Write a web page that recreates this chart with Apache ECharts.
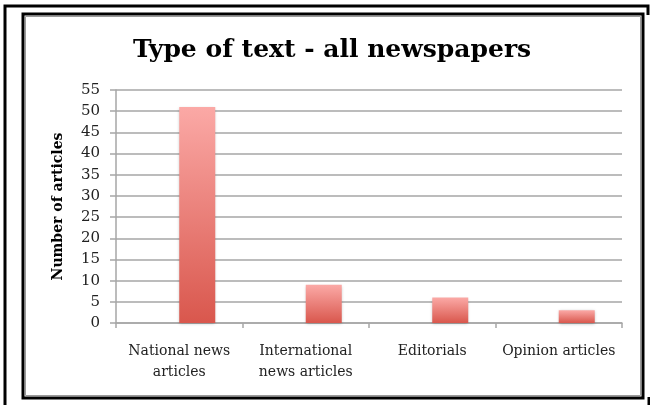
<!DOCTYPE html>
<html>
<head>
<meta charset="utf-8">
<script src="https://cdn.jsdelivr.net/npm/echarts@6/dist/echarts.min.js"></script>
<style>
html,body{margin:0;padding:0;background:#fff;}
#chart{width:650px;height:405px;}
</style>
</head>
<body>
<div id="chart"></div>
<script>
const categories = ['National news\narticles', 'International\nnews articles', 'Editorials', 'Opinion articles'];
const emptySeries = [null, null, null, null];
const articleCounts = [51, 9, 6, 3];
const yTicks = { min: 0, max: 55, interval: 5 };

const chart = echarts.init(document.getElementById('chart'), null, { renderer: 'canvas' });
const serif = '"DejaVu Serif", "Liberation Serif", serif';
chart.setOption({
  animation: false,
  backgroundColor: '#ffffff',
  title: {
    text: 'Type of text - all newspapers',
    left: 128,
    top: 33,
    textStyle: { fontFamily: serif, fontWeight: 'bold', fontSize: 25, color: '#000' }
  },
  grid: { left: 116, right: 28, top: 90, bottom: 82, containLabel: false },
  xAxis: {
    type: 'category',
    data: categories,
    axisLine: { show: true, lineStyle: { color: '#a6a6a6', width: 1.5 } },
    axisTick: { show: true, length: 5, lineStyle: { color: '#a6a6a6', width: 1.5 } },
    axisLabel: { fontFamily: serif, fontSize: 14, color: '#222', margin: 18, lineHeight: 21, interval: 0 }
  },
  yAxis: {
    type: 'value',
    min: yTicks.min, max: yTicks.max, interval: yTicks.interval,
    name: 'Number of articles',
    nameLocation: 'middle',
    nameGap: 51,
    nameTextStyle: { fontFamily: serif, fontWeight: 'bold', fontSize: 14, color: '#000' },
    axisLine: { show: true, lineStyle: { color: '#a6a6a6', width: 1.5 } },
    axisTick: { show: true, length: 6, lineStyle: { color: '#a6a6a6', width: 1.5 } },
    axisLabel: { fontFamily: serif, fontSize: 15, color: '#222', margin: 16 },
    splitLine: { show: true, lineStyle: { color: '#a6a6a6', width: 1.5 } }
  },
  series: [
    { type: 'bar', data: emptySeries, barWidth: 36, barGap: '0%' },
    {
      type: 'bar', data: articleCounts, barWidth: 36, barGap: '0%',
      itemStyle: {
        color: new echarts.graphic.LinearGradient(0, 0, 0, 1, [
          { offset: 0, color: '#fba9a6' },
          { offset: 1, color: '#d9574d' }
        ]),
        shadowColor: 'rgba(0,0,0,0.25)', shadowBlur: 3, shadowOffsetY: 1
      }
    }
  ],
  graphic: [
    { type: 'polyline', shape: { points: [[5, 405], [5, 6], [648, 6], [648, 15]] }, style: { stroke: '#000', lineWidth: 3, fill: null } },
    { type: 'rect', shape: { x: 23, y: 14, width: 620, height: 384 }, style: { stroke: '#000', lineWidth: 3, fill: null } },
    { type: 'rect', shape: { x: 25.5, y: 16.5, width: 615, height: 379 }, style: { stroke: '#9a9a9a', lineWidth: 1, fill: null } },
    { type: 'line', shape: { x1: 649, y1: 397, x2: 649, y2: 405 }, style: { stroke: '#000', lineWidth: 3 } }
  ]
});
</script>
</body>
</html>
